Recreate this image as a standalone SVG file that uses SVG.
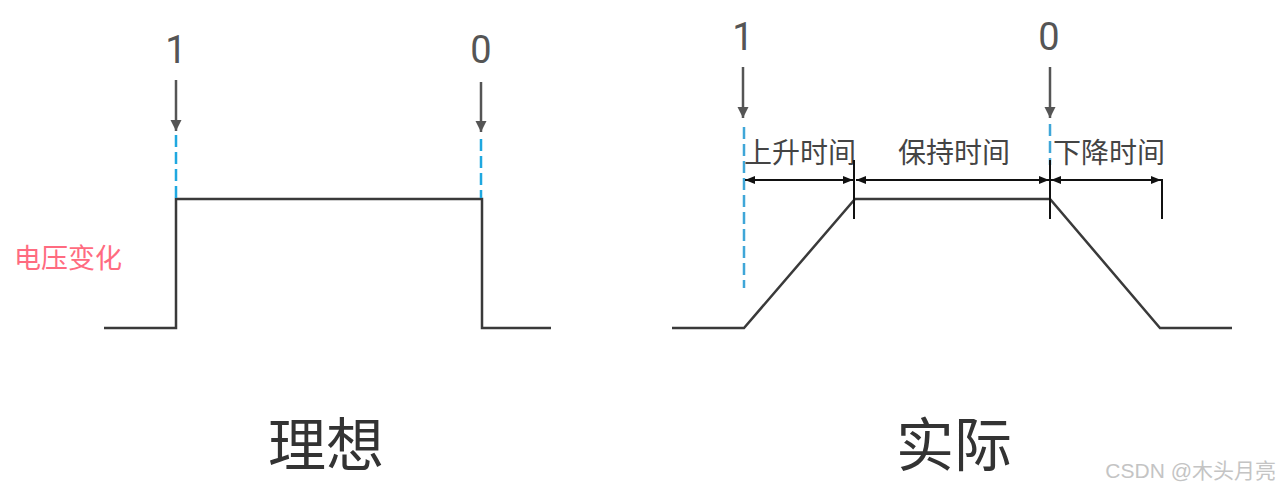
<svg xmlns="http://www.w3.org/2000/svg" width="1280" height="496" viewBox="0 0 1280 496">
<defs>
<style>
.wave{fill:none;stroke:#3a3a3a;stroke-width:2.5;stroke-linejoin:miter}
.arr{stroke:#555;stroke-width:2.5;fill:none}
.dash{stroke:#1fa8e0;stroke-width:2.5;stroke-dasharray:12 5;fill:none}
.dim{stroke:#111;stroke-width:2;fill:none}
.num{font-family:Roboto,"Liberation Sans",sans-serif;font-size:38px;fill:#555;text-anchor:middle}
.lbl{font-family:"Noto Sans CJK SC",sans-serif;font-size:28px;fill:#444;text-anchor:middle}
.title{font-family:"Noto Sans CJK SC",sans-serif;font-size:58px;fill:#333;text-anchor:middle}
</style>
<marker id="ah" viewBox="0 0 10 10" refX="10" refY="5" markerWidth="11" markerHeight="13" markerUnits="userSpaceOnUse" orient="auto"><path d="M0,0 L10,5 L0,10 z" fill="#555"/></marker>
<marker id="da" viewBox="0 0 10 10" refX="10" refY="5" markerWidth="10" markerHeight="10" markerUnits="userSpaceOnUse" orient="auto-start-reverse"><path d="M0,1 L10,5 L0,9 z" fill="#111"/></marker>
</defs>
<rect width="1280" height="496" fill="#fff"/>

<g id="ideal">
<polyline class="wave" points="104,328 176,328 176,199 482,199 482,328 551,328"/>
<text class="num" x="176" y="63">1</text>
<text class="num" x="481" y="63">0</text>
<text x="68" y="268" font-family="'Noto Sans CJK SC',sans-serif" font-size="27" fill="#ff6b80" text-anchor="middle">电压变化</text>
<text class="title" x="326" y="466">理想</text>
</g>

<g id="actual">
<polyline class="wave" points="672,328 744,328 855,199 1050,199 1160,328 1232,328"/>
<text class="num" x="743" y="50">1</text>
<text class="num" x="1049" y="50">0</text>
<text class="lbl" x="800" y="163">上升时间</text>
<text class="lbl" x="954" y="163">保持时间</text>
<text class="lbl" x="1109" y="163">下降时间</text>
<text class="title" x="954" y="466">实际</text>
</g>

<g id="connectors">
<line class="arr" x1="176" y1="80" x2="176" y2="131" marker-end="url(#ah)"/>
<line class="arr" x1="481" y1="82" x2="481" y2="132" marker-end="url(#ah)"/>
<line class="dash" x1="176" y1="135" x2="176" y2="198"/>
<line class="dash" x1="481" y1="139" x2="481" y2="198"/>
<line class="arr" x1="743" y1="67" x2="743" y2="118" marker-end="url(#ah)"/>
<line class="arr" x1="1050" y1="67" x2="1050" y2="118" marker-end="url(#ah)"/>
<line class="dash" x1="744" y1="127" x2="744" y2="288" style="stroke:#3fa6d8"/>
<line class="dash" x1="1050" y1="124" x2="1050" y2="165" style="stroke:#3fa6d8"/>
<line class="dim" x1="854" y1="160" x2="854" y2="219"/>
<line class="dim" x1="1050" y1="160" x2="1050" y2="219"/>
<line class="dim" x1="1162" y1="179" x2="1162" y2="219"/>
<line class="dim" x1="745" y1="180" x2="853" y2="180" marker-start="url(#da)" marker-end="url(#da)"/>
<line class="dim" x1="856" y1="180" x2="1049" y2="180" marker-start="url(#da)" marker-end="url(#da)"/>
<line class="dim" x1="1051" y1="180" x2="1161" y2="180" marker-start="url(#da)" marker-end="url(#da)"/>
</g>

<text x="1276" y="478" font-family="'Liberation Sans','Noto Sans CJK SC',sans-serif" font-size="21" fill="#c4c4c4" text-anchor="end">CSDN @木头月亮</text>
</svg>
